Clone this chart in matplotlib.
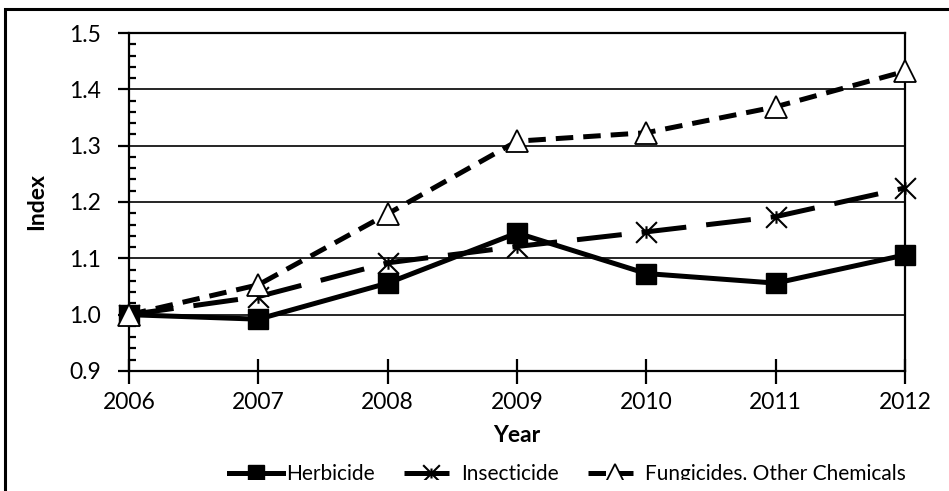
import matplotlib
matplotlib.use("Agg")
import matplotlib.pyplot as plt
from matplotlib.path import Path
from matplotlib.patches import Rectangle
from matplotlib.ticker import MultipleLocator, FormatStrFormatter

years = [2006, 2007, 2008, 2009, 2010, 2011, 2012]
herbicide = [1.000, 0.992, 1.056, 1.145, 1.073, 1.056, 1.106]
insecticide = [1.000, 1.032, 1.092, 1.121, 1.147, 1.174, 1.225]
fungicides = [1.000, 1.053, 1.179, 1.308, 1.323, 1.369, 1.432]
series_names = ["Herbicide", "Insecticide", "Fungicides, Other Chemicals"]

plt.rcParams['font.family'] = ['Lato', 'DejaVu Sans']
FS = 16.5

fig = plt.figure(figsize=(9.49, 4.91), dpi=100)
ax = fig.add_axes([129/949, 1-371/491, (905-129)/949, (371-33)/491])

star = Path([(-1, -1), (1, 1), (-1, 1), (1, -1), (0, -0.6), (0, 0.6)],
            [Path.MOVETO, Path.LINETO, Path.MOVETO, Path.LINETO, Path.MOVETO, Path.LINETO])

ax.plot(years, herbicide, color='black', lw=3.6, marker='s', ms=14,
        mfc='black', mec='black', label=series_names[0], zorder=3, clip_on=False)
ax.plot(years, insecticide, color='black', lw=3.6, dashes=(9, 4), marker=star, ms=15,
        mec='black', mew=1.5, label=series_names[1], zorder=4, clip_on=False)
ax.plot(years, fungicides, color='black', lw=3.6, dashes=(3.5, 2), marker='^', ms=16,
        mfc='white', mec='black', mew=1.3, label=series_names[2], zorder=5, clip_on=False)

ax.set_xlim(2006, 2012)
ax.set_ylim(0.9, 1.5)
ax.set_xticks(years)
ax.yaxis.set_major_locator(MultipleLocator(0.1))
ax.yaxis.set_minor_locator(MultipleLocator(0.02))
ax.yaxis.set_major_formatter(FormatStrFormatter('%.1f'))
ax.grid(axis='y', which='major', color='black', lw=1.2)
ax.set_axisbelow(True)
for s in ax.spines.values():
    s.set_linewidth(1.6)
    s.set_color('black')
ax.tick_params(axis='y', which='major', direction='out', length=8, width=1.6,
               labelsize=FS, pad=12)
ax.tick_params(axis='y', which='minor', direction='in', length=5, width=1.6)
ax.tick_params(axis='x', which='major', direction='inout', length=18, width=1.6,
               labelsize=FS, pad=6)
ax.set_xlabel("Year", fontsize=FS, fontweight='bold', labelpad=9)
ax.set_ylabel("Index", fontsize=FS, fontweight='bold', labelpad=16)

leg = fig.legend(loc='center', bbox_to_anchor=(0.598, 0.035), ncol=3, frameon=False,
                 fontsize=15, handlelength=2.6, columnspacing=1.4, handletextpad=0.15,
                 markerscale=0.8)

# bottom of the reference picture is cut just under the legend text
fig.patches.append(Rectangle((9/949, 0), 1.0, 11/491, transform=fig.transFigure,
                             facecolor='white', edgecolor='none', zorder=9))
fig.patches.append(Rectangle((5/949, -0.2), 1.2, 1.2 - 9/491, transform=fig.transFigure,
                             fill=False, lw=2.2, edgecolor='black', zorder=10))

fig.savefig("out.png", dpi=100)
